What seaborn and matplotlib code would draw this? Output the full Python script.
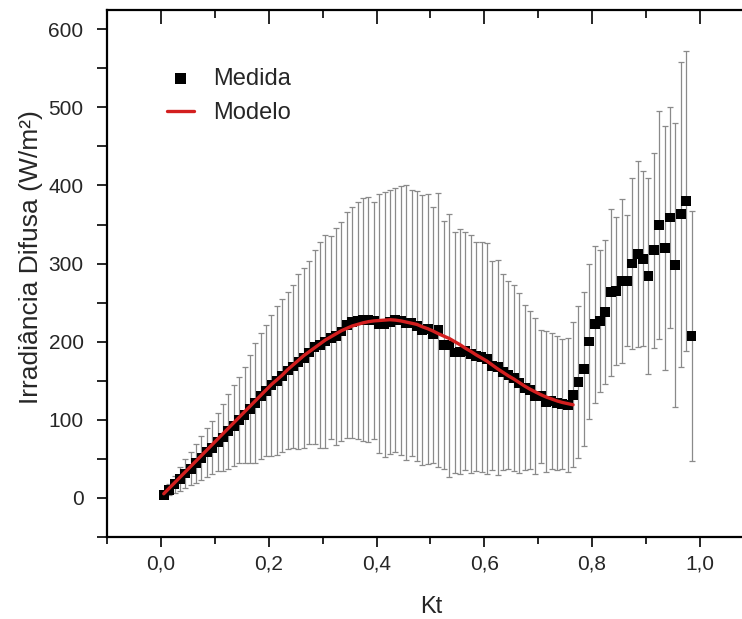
import matplotlib
matplotlib.use("Agg")
import matplotlib.pyplot as plt
import matplotlib.ticker as ticker
import pandas as pd
import seaborn as sns

# Kt bin centres (0.01 wide bins)
KT = [
    0.005, 0.015, 0.025, 0.035, 0.045, 0.055, 0.065, 0.075, 0.085, 0.095,
    0.105, 0.115, 0.125, 0.135, 0.145, 0.155, 0.165, 0.175, 0.185, 0.195,
    0.205, 0.215, 0.225, 0.235, 0.245, 0.255, 0.265, 0.275, 0.285, 0.295,
    0.305, 0.315, 0.325, 0.335, 0.345, 0.355, 0.365, 0.375, 0.385, 0.395,
    0.405, 0.415, 0.425, 0.435, 0.445, 0.455, 0.465, 0.475, 0.485, 0.495,
    0.505, 0.515, 0.525, 0.535, 0.545, 0.555, 0.565, 0.575, 0.585, 0.595,
    0.605, 0.615, 0.625, 0.635, 0.645, 0.655, 0.665, 0.675, 0.685, 0.695,
    0.705, 0.715, 0.725, 0.735, 0.745, 0.755, 0.765, 0.775, 0.785, 0.795,
    0.805, 0.815, 0.825, 0.835, 0.845, 0.855, 0.865, 0.875, 0.885, 0.895,
    0.905, 0.915, 0.925, 0.935, 0.945, 0.955, 0.965, 0.975, 0.985,
]

# measured diffuse irradiance (W/m2)
MEDIDA = [
    3, 10, 17, 24, 31, 37, 44, 51, 58, 64,
    71, 77, 85, 92, 99, 106, 114, 121, 130, 137,
    144, 150, 156, 163, 168, 174, 179, 186, 193, 196,
    200, 205, 207, 213, 221, 225, 227, 228, 228, 227,
    223, 222, 225, 228, 227, 224, 224, 220, 215, 216,
    209, 215, 196, 195, 186, 187, 188, 184, 181, 180,
    178, 169, 167, 161, 157, 153, 147, 141, 138, 130,
    130, 123, 124, 121, 120, 119, 132, 148, 165, 200,
    222, 226, 238, 263, 265, 278, 278, 300, 312, 306,
    284, 317, 349, 320, 359, 298, 363, 380, 207,
]

# standard deviation (error bars)
DESVIO = [
    4, 7, 11, 15, 18, 21, 25, 28, 31, 34,
    37, 43, 48, 52, 55, 62, 69, 77, 81, 84,
    90, 95, 98, 101, 104, 112, 115, 117, 124, 132,
    137, 130, 139, 140, 145, 148, 152, 156, 157, 152,
    166, 170, 169, 169, 172, 176, 170, 173, 173, 173,
    164, 176, 159, 168, 154, 157, 153, 152, 147, 147,
    148, 134, 138, 126, 120, 119, 115, 106, 101, 100,
    85, 90, 87, 86, 83, 86, 93, 97, 99, 99,
    101, 91, 92, 107, 95, 105, 84, 110, 119, 112,
    125, 125, 146, 156, 141, 182, 195, 192, 160,
]

# fitted model, defined up to Kt = 0.765
MODELO = [
    5, 12, 19, 26, 33, 40, 47, 54, 61, 68,
    75, 82, 89, 96, 103, 110, 117, 124, 131, 138,
    145, 151, 157, 164, 170, 176, 182, 187, 192, 197,
    202, 206, 210, 214, 217, 220, 222, 224, 225.5, 226.5,
    227, 227.5, 228, 227.5, 226.5, 225, 223.5, 222, 219, 216.5,
    213.5, 210, 207, 204, 200, 196, 191.5, 187.5, 183, 179,
    175, 170, 165, 160.5, 156, 152, 147.5, 143, 139, 135.5,
    132, 129, 126.5, 124, 122, 120.5, 119,
]
KT_MODELO = KT[:len(MODELO)]

X_TICKS = [0.0, 0.2, 0.4, 0.6, 0.8, 1.0]
X_TICK_LABELS = ["0,0", "0,2", "0,4", "0,6", "0,8", "1,0"]

sns.set_style("ticks")
plt.rcParams["font.family"] = ["Liberation Sans", "DejaVu Sans"]

df = pd.DataFrame({"Kt": KT, "Medida": MEDIDA, "Desvio": DESVIO})
df_mod = pd.DataFrame({"Kt": KT_MODELO, "Modelo": MODELO})

fig = plt.figure(figsize=(7.42, 6.19), dpi=100)
ax = fig.add_axes([0.1445, 0.133, 0.871, 0.851])

ax.errorbar(
    df["Kt"], df["Medida"], yerr=df["Desvio"],
    fmt="none", ecolor="#8a8a8a", elinewidth=0.9,
    capsize=2.3, capthick=0.9, zorder=2,
)

sns.scatterplot(
    data=df, x="Kt", y="Medida", marker="s", s=50,
    color="black", edgecolor="none", linewidth=0,
    label="Medida", ax=ax, zorder=3,
)

sns.lineplot(
    data=df_mod, x="Kt", y="Modelo", color="#d31f1f",
    linewidth=2.4, label="Modelo", ax=ax, zorder=4,
)

ax.set_xlim(-0.1, 1.1)
ax.set_ylim(-50, 625)

ax.set_xticks(X_TICKS)
ax.set_xticklabels(X_TICK_LABELS)
ax.xaxis.set_minor_locator(ticker.MultipleLocator(0.1))
ax.yaxis.set_major_locator(ticker.MultipleLocator(100))
ax.yaxis.set_minor_locator(ticker.MultipleLocator(50))

ax.tick_params(axis="both", which="major", direction="out", length=7,
               width=1.4, labelsize=15, top=False, right=False)
ax.tick_params(axis="x", which="major", pad=6)
ax.tick_params(axis="y", which="major", pad=10)
ax.tick_params(axis="both", which="minor", direction="out", length=5,
               width=1.4, top=False, right=False)
ax.tick_params(axis="y", which="minor", length=7)

# inward ticks on the top spine
sec = ax.secondary_xaxis("top")
sec.set_xticks(X_TICKS)
sec.set_xticklabels([])
sec.xaxis.set_minor_locator(ticker.MultipleLocator(0.1))
sec.tick_params(which="major", direction="in", length=10, width=1.4)
sec.tick_params(which="minor", direction="in", length=6, width=1.4)
sec.spines["top"].set_visible(False)

for side in ["left", "bottom", "top", "right"]:
    ax.spines[side].set_linewidth(1.6)
    ax.spines[side].set_color("black")

ax.set_xlabel("Kt", fontsize=17)
ax.xaxis.set_label_coords(0.502, -0.113)
ax.set_ylabel("Irradiância Difusa (W/m²)", fontsize=19)
ax.yaxis.set_label_coords(-0.1, 0.53)

ax.legend(
    loc="upper left", bbox_to_anchor=(0.059, 0.93), frameon=False,
    fontsize=17, handlelength=1.15, handletextpad=0.8, labelspacing=0.5,
    markerscale=1.1,
)

fig.savefig("out.png", dpi=100)
